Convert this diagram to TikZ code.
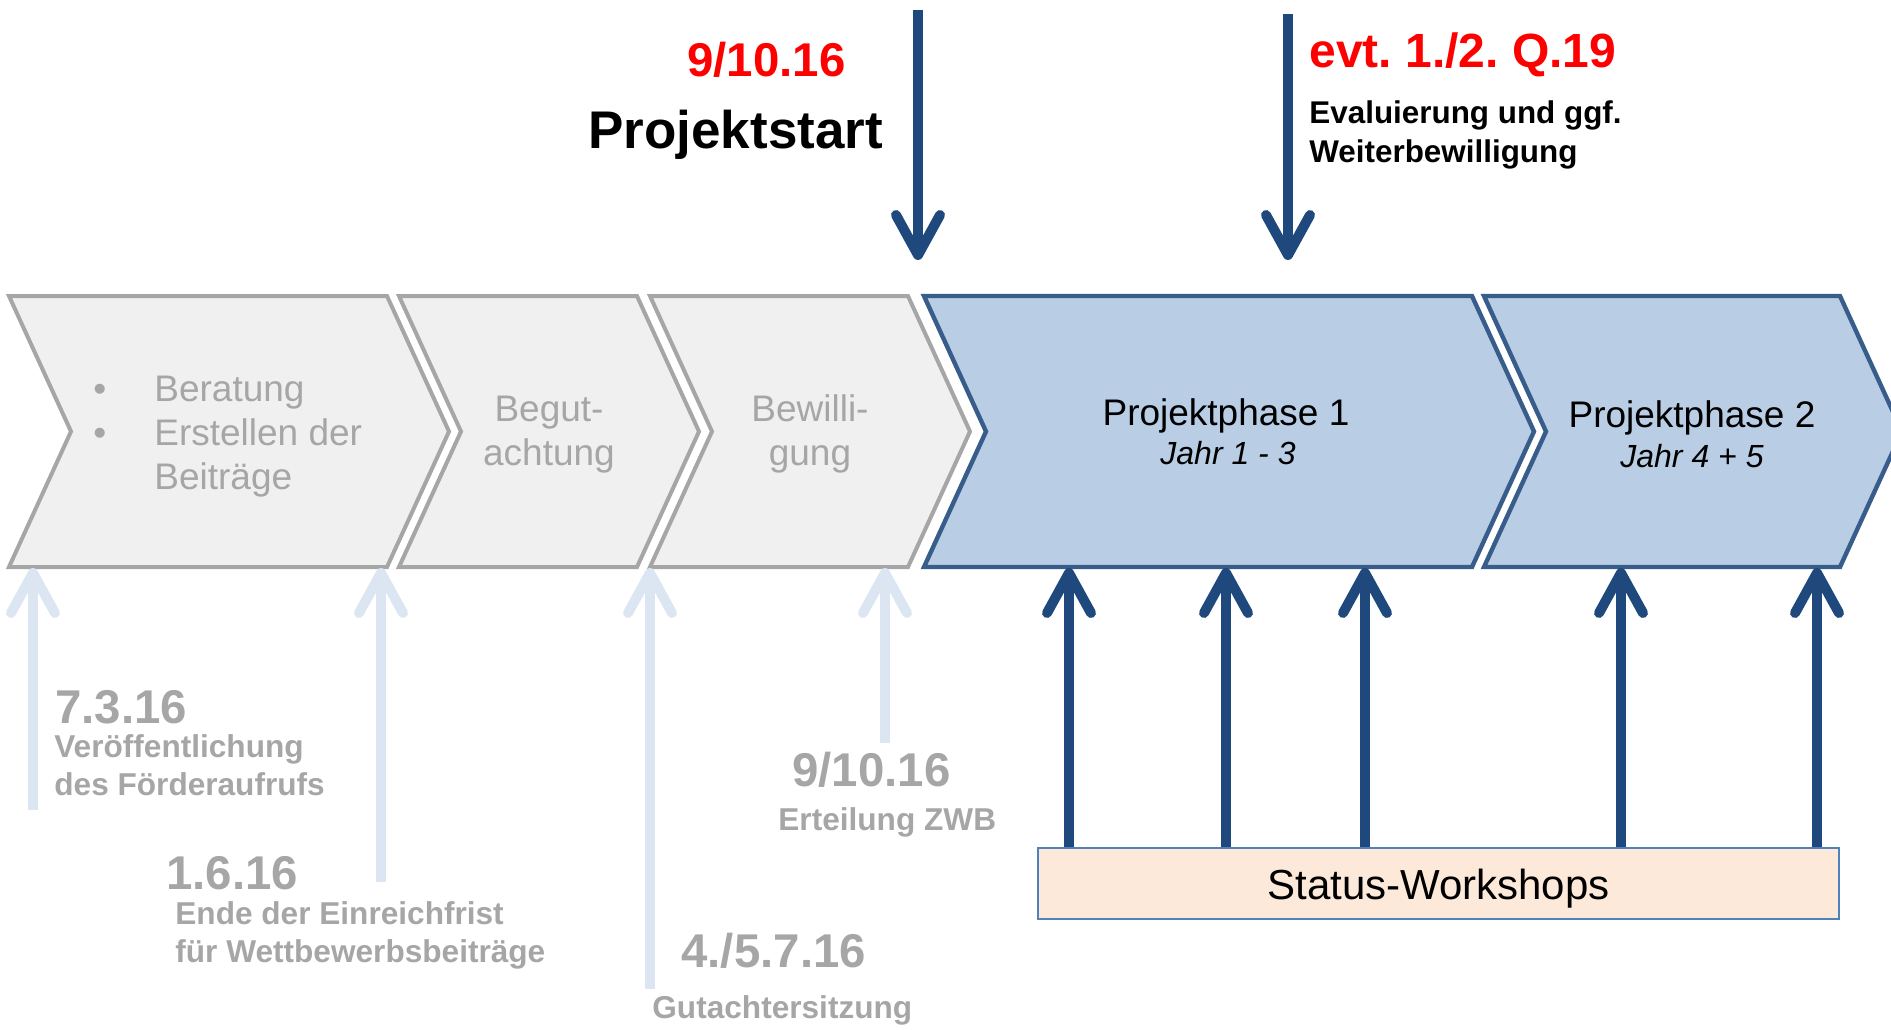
\documentclass[tikz,border=0pt]{standalone}
\usepackage{fontspec}
\setmainfont{Liberation Sans}
\usetikzlibrary{arrows.meta}
\frenchspacing

\definecolor{phgrayfill}{HTML}{F0F0F0}
\definecolor{phgrayline}{HTML}{A6A6A6}
\definecolor{phbluefill}{HTML}{B9CDE5}
\definecolor{phblueline}{HTML}{385D8A}
\definecolor{arrowblue}{HTML}{1F497D}
\definecolor{arrowlight}{HTML}{DCE6F2}
\definecolor{txtgray}{HTML}{A6A6A6}
\definecolor{wsfill}{HTML}{FDE9D9}
\definecolor{wsline}{HTML}{4F81BD}

\newcommand\phfont{\fontsize{18.5}{22}\selectfont}
\newcommand\yrfont{\fontsize{16}{19}\selectfont\itshape}
\newcommand\datefont{\fontsize{23.7}{28}\selectfont\bfseries}
\newcommand\notefont{\fontsize{15.8}{18.8}\selectfont\bfseries}

\begin{document}
\begin{tikzpicture}[x=0.5pt,y=-0.5pt,
  grayphase/.style={fill=phgrayfill,draw=phgrayline,line width=2pt},
  bluephase/.style={fill=phbluefill,draw=phblueline,line width=2.2pt},
  milestone/.style={arrowblue,line width=5pt,-{Straight Barb[round,length=20pt,width=22pt]}},
  pastmark/.style={milestone,arrowlight},
  graytxt/.style={text=txtgray,inner sep=0pt},
  blacktxt/.style={text=black,inner sep=0pt}]
  \clip (0,0) rectangle (1891,1029);
  % phases as chevrons: left x / top right x / style
  \foreach \xa/\xb/\sty in {9/387/grayphase,399/637/grayphase,650/908/grayphase,924/1472/bluephase,1484/1840/bluephase}{
    \draw[\sty] (\xa,296) -- (\xb,296) -- (\xb+62,431.5) -- (\xb,567) -- (\xa,567) -- (\xa+62,431.5) -- cycle;
  }
  % texts in the phases (base = last line)
  \node[graytxt,font=\phfont,align=left,anchor=base west] (prep) at (154,489)
    {\llap{\textbullet\hspace{24pt}}Beratung\\\llap{\textbullet\hspace{24pt}}Erstellen der\\Beiträge};
  \node[graytxt,font=\phfont,align=center,anchor=base] (review) at (549,465) {Begut-\\achtung};
  \node[graytxt,font=\phfont,align=center,anchor=base] (grant) at (810,465) {Bewilli-\\gung};
  \node[blacktxt,font=\phfont,anchor=base] (ph1) at (1226,425) {Projektphase 1};
  \node[blacktxt,font=\yrfont,anchor=base] (ph1yr) at (1228,464) {Jahr 1 - 3};
  \node[blacktxt,font=\phfont,anchor=base] (ph2) at (1692,427) {Projektphase 2};
  \node[blacktxt,font=\yrfont,anchor=base] (ph2yr) at (1692,467) {Jahr 4 + 5};
  % milestones on top
  \node[text=red,inner sep=0pt,font=\datefont,anchor=base west] (startdate) at (687,76) {9/10.16};
  \node[blacktxt,font=\fontsize{26.5}{30}\selectfont\bfseries,anchor=base west] (start) at (588,148) {Projektstart};
  \node[text=red,inner sep=0pt,font=\fontsize{24}{28}\selectfont\bfseries,anchor=base west] (evaldate) at (1309,67) {evt. 1./2. Q.19};
  \node[blacktxt,font=\fontsize{15.7}{19.2}\selectfont\bfseries,align=left,anchor=base west] (eval) at (1309,162)
    {Evaluierung und ggf.\\Weiterbewilligung};
  \coordinate (startfrom) at (918,10);
  \coordinate (startto) at (918,260);
  \coordinate (evalfrom) at (1288,14);
  \coordinate (evalto) at (1288,260);
  \draw[milestone] (startfrom) -- (startto);
  \draw[milestone] (evalfrom) -- (evalto);
  % past dates below
  \node[graytxt,font=\datefont,anchor=base west] (d1) at (55,723) {7.3.16};
  \node[graytxt,font=\notefont,align=left,anchor=base west] (n1) at (54,795) {Veröffentlichung\\des Förderaufrufs};
  \node[graytxt,font=\datefont,anchor=base west] (d2) at (166,889) {1.6.16};
  \node[graytxt,font=\notefont,align=left,anchor=base west] (n2) at (175,962) {Ende der Einreichfrist\\für Wettbewerbsbeiträge};
  \node[graytxt,font=\datefont,anchor=base west] (d3) at (681,967) {4./5.7.16};
  \node[graytxt,font=\notefont,anchor=base west] (n3) at (652,1018) {Gutachtersitzung};
  \node[graytxt,font=\datefont,anchor=base west] (d4) at (792,786) {9/10.16};
  \node[graytxt,font=\notefont,anchor=base west] (n4) at (778,830) {Erteilung ZWB};
  \foreach \x/\y [count=\i] in {33/810,381/882,650/989,885/743}{
    \coordinate (past\i) at (\x,\y);
    \coordinate (past\i tip) at (\x,568);
    \draw[pastmark] (past\i) -- (past\i tip);
  }
  % status workshops
  \node[draw=wsline,fill=wsfill,line width=0.75pt,inner sep=0pt,minimum width=400.5pt,
    text height=25.65pt,text depth=9.85pt,font=\fontsize{21}{25}\selectfont] (ws) at (1438.5,883.5) {Status-Workshops};
  \foreach \x [count=\i] in {1069,1226,1365,1621,1817}{
    \coordinate (ws\i) at (\x,0 |- ws.north);
    \coordinate (ws\i tip) at (\x,568);
    \draw[milestone] (ws\i) -- (ws\i tip);
  }
\end{tikzpicture}
\end{document}
